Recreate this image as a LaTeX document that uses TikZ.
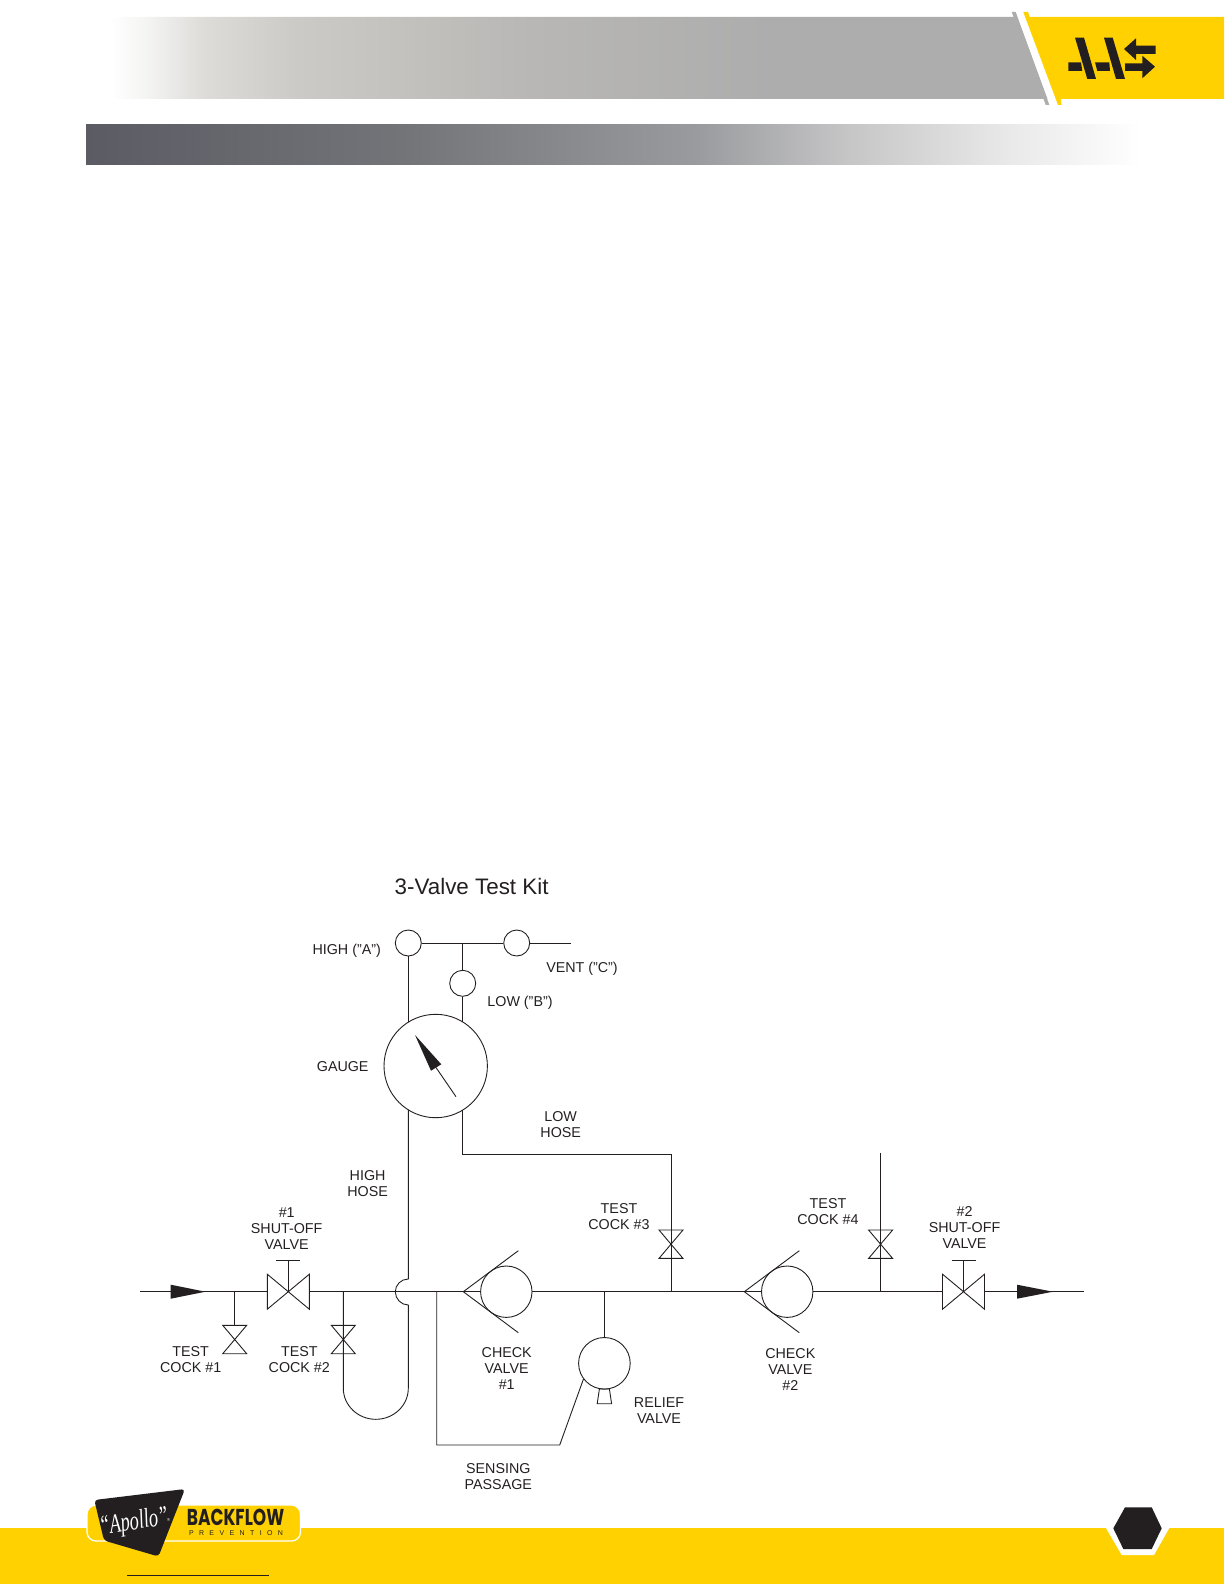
\documentclass[tikz,border=0pt]{standalone}
\usepackage{fontspec}
\setmainfont{Liberation Sans}
\newfontfamily\apollofont[FakeStretch=0.68]{Liberation Serif}
\newfontfamily\blackfont[FakeStretch=0.74]{Poppins}
\usetikzlibrary{calc}
\definecolor{ink}{HTML}{231F20}
\definecolor{brand}{HTML}{FFD100}
\definecolor{HGw}{HTML}{F4F4F3}
\definecolor{HGx}{HTML}{DDDCD9}
\definecolor{HGa}{HTML}{CCCAC6}
\definecolor{HGb}{HTML}{B8B7B5}
\definecolor{HGc}{HTML}{ADADAD}
\definecolor{BGa}{HTML}{5B5B64}
\definecolor{BGb}{HTML}{737478}
\definecolor{BGc}{HTML}{9A9B9E}
\definecolor{BGd}{HTML}{C5C5C6}
\definecolor{BGe}{HTML}{E8E8E8}
\pgfdeclarehorizontalshading{headband}{100bp}{color(0bp)=(white);color(25bp)=(white);color(27bp)=(HGw);color(30bp)=(HGx);color(35bp)=(HGa);color(47.5bp)=(HGb);color(60bp)=(HGc);color(100bp)=(HGc)}
\pgfdeclarehorizontalshading{subband}{100bp}{color(0bp)=(BGa);color(25bp)=(BGa);color(40bp)=(BGb);color(54bp)=(BGc);color(61bp)=(BGd);color(68.5bp)=(BGe);color(75bp)=(white);color(100bp)=(white)}
\tikzset{
  pipe/.style={draw=ink,line width=0.9pt},
  valvecircle/.style={circle,draw=ink,line width=0.9pt,inner sep=0pt,minimum size=#1},
  lbl/.style={font=\fontsize{14.3}{16}\selectfont,text=ink,align=center,inner sep=0pt},
  pics/testcock/.style={code={\draw[pipe] (-12,-14.2)--(12,-14.2)--(-12,14.2)--(12,14.2)--cycle;}},
  pics/shutoff/.style={code={\draw[pipe,line join=miter] (-21,-17.5)--(21,17.5)--(21,-17.5)--(-21,17.5)--cycle;
     \draw[pipe] (0,0)--(0,-31) (-12,-31)--(12,-31);}},
  pics/checkcone/.style={code={\draw[pipe] (55,-41)--(0,0)--(55,41);}},
}
\begin{document}
\begin{tikzpicture}[x=1pt,y=-1pt]
\useasboundingbox (0,0) rectangle (1224,1584);
% header
\shade[shading=headband] (110,17)--(1017,17)--(1047.5,99)--(110,99)--cycle;
\fill[HGc] (1011.7,12)--(1015.7,12)--(1049.3,105)--(1045.7,105)--cycle;
\fill[brand] (1023.3,12)--(1028,12)--(1029.7,17)--(1224,17)--(1224,99)--(1061,99)--(1061.5,105)--(1058,105)--cycle;
\fill[ink] (1075,37.7)--(1084,37.7)--(1096,79)--(1087.3,79)--cycle
           (1104,37.7)--(1112.7,37.7)--(1125,79)--(1116,79)--cycle
           (1068.3,62.3)--(1081,62.3)--(1082.3,71)--(1068.3,71)--cycle
           (1095,62.3)--(1109.3,62.3)--(1110,71)--(1097.3,71)--cycle
           (1124,49)--(1136,38.3)--(1136,45.7)--(1155.7,45.7)--(1155.7,54)--(1136,54)--(1136,60)--cycle
           (1155,66.7)--(1142.3,55.7)--(1142.3,63.3)--(1125,63.3)--(1125,71)--(1142.3,71)--(1142.3,78.3)--cycle;
% sub band
\shade[shading=subband] (86,124.5) rectangle (1141,164.5);
% footer
\fill[brand] (0,1528) rectangle (1224,1584);
\fill[white] (1106,1528)--(1121.7,1555)--(1154,1555)--(1169.3,1528)--cycle;
\fill[ink] (1125,1507.3)--(1151.7,1507.3)--(1161.7,1528.3)--(1151.7,1549)--(1123.3,1549)--(1113.3,1528.3)--cycle;
\draw[white,line width=1.3pt,fill=brand,rounded corners=9pt] (87,1505) rectangle (300.5,1541);
\fill[ink,rounded corners=3.5pt] (94.3,1500)--(185,1489)--(158.5,1556.5)--(104,1540.5)--cycle;
\node[rotate=9,text=white,inner sep=0pt,font=\apollofont\itshape\fontsize{27}{27}\selectfont] (apollo) at (134,1523) {“Apollo”};
\node[rotate=9,text=white,inner sep=0pt,font=\fontsize{4}{4}\selectfont] (regmark) at (168.5,1520) {®};
\node[inner sep=0pt,text=ink,font=\blackfont\bfseries\fontsize{23}{23}\selectfont] (backflow) at (235.5,1517.5) {BACKFLOW};
\node[inner sep=0pt,text=ink,font=\fontsize{7}{7}\selectfont] (prevention) at (236,1533) {\hbox to 94pt{P\hfil R\hfil E\hfil V\hfil E\hfil N\hfil T\hfil I\hfil O\hfil N}};
\coordinate (ruleL) at (127.3,1575); \coordinate (ruleR) at (269,1575);
\draw[ink,line width=0.9pt] (ruleL)--(ruleR);
% title
\node[inner sep=0pt,text=ink,font=\fontsize{22.4}{26}\selectfont] (title) at (471.6,886.7) {3-Valve Test Kit};
% circles
\node[valvecircle=26pt] (high) at (408.3,943) {};
\node[valvecircle=26pt] (vent) at (516.7,943) {};
\node[valvecircle=26pt] (low) at (462.7,983.3) {};
\node[valvecircle=103.4pt] (gauge) at (435.7,1066) {};
\node[valvecircle=51.4pt] (cv1) at (506.3,1291.7) {};
\node[valvecircle=51.4pt] (cv2) at (787.2,1291.7) {};
\node[valvecircle=51.6pt] (relief) at (604.4,1363.3) {};
% key coordinates
\coordinate (inlet) at (140.4,1291.7);
\coordinate (outlet) at (1083.6,1291.7);
\coordinate (sv1L) at (267.3,1291.7); \coordinate (sv1R) at (309.3,1291.7);
\coordinate (sv2L) at (942.5,1291.7); \coordinate (sv2R) at (984.5,1291.7);
\coordinate (teeLow) at (462.7,943);
\coordinate (ventEnd) at (571,943);
\coordinate (tee1) at (234.7,1291.7);
\coordinate (tee2) at (343.3,1291.7);
\coordinate (tee3) at (671,1291.7);
\coordinate (tee4) at (880.6,1291.7);
\coordinate (teeS) at (436.7,1291.7);
\coordinate (teeR) at (604.4,1291.7);
\coordinate (hoseLow) at (462.7,1154);
\coordinate (hoseLowR) at (671,1154);
\coordinate (tc4Top) at (880.6,1152.5);
\coordinate (sensA) at (436.7,1445);
\coordinate (sensB) at (559.7,1445);
% pipes
\draw[pipe] (inlet)--(sv1L) (sv1R)--(cv1.west) (cv1.east)--(cv2.west) (cv2.east)--(sv2L) (sv2R)--(outlet);
\draw[pipe] (high.east)--(vent.west) (vent.east)--(ventEnd);
\draw[pipe] (teeLow)--(low.north) (low.south)--(low.south|-gauge.58);
\draw[pipe] (high.south)--(high.south|-gauge.122);
\draw[pipe,line join=round] (high.south|-gauge.238)--(408.3,1279) .. controls (401.1,1279) and (395.3,1284.8) .. (395.3,1291.7) .. controls (395.3,1298.9) and (401.1,1305) .. (408.3,1305)--(408.3,1388.3) .. controls (408.3,1405.4) and (393.7,1419.3) .. (375.8,1419.3) .. controls (357.9,1419.3) and (343.3,1405.4) .. (343.3,1388.3)--(tee2);
\draw[pipe,line join=miter] (low.south|-gauge.302)--(hoseLow)--(hoseLowR)--(tee3);
\draw[pipe] (tc4Top)--(tee4);
\draw[pipe] (tee1)--(234.7,1325.3);
\draw[pipe,line join=miter] (teeS)--(sensA)--(sensB)--(relief.217);
\draw[pipe] (teeR)--(relief.north);
% valves
\pic at (234.7,1339.5) {testcock};
\pic at (343.3,1339.5) {testcock};
\pic at (671,1244.2) {testcock};
\pic at (880.6,1244.2) {testcock};
\pic at (288.3,1291.7) {shutoff};
\pic at (963.5,1291.7) {shutoff};
\pic at (463.3,1291.7) {checkcone};
\pic at (744.3,1291.7) {checkcone};
\draw[pipe] (599.4,1389)--(609.4,1389)--(611.6,1403.7)--(597.2,1403.7)--cycle;
% flow arrows
\fill[ink] (170.7,1284.7)--(205.5,1291.7)--(170.7,1298.7)--cycle;
\fill[ink] (1017,1284.7)--(1053,1291.7)--(1017,1298.7)--cycle;
% gauge needle
\draw[pipe] (456,1096.7)--(436,1067.5);
\fill[ink] (415,1035)--(441.3,1064.3)--(431,1070.7)--cycle;
% labels
\node[lbl] (lHigh) at (346.7,950.3) {HIGH ("A")};
\node[lbl] (lVent) at (582,968.7) {VENT ("C")};
\node[lbl] (lLow) at (520,1003) {LOW ("B")};
\node[lbl] (lGauge) at (342.7,1066.7) {GAUGE};
\node[lbl] (lLowHose) at (560.7,1124.5) {LOW\\HOSE};
\node[lbl] (lHighHose) at (367.6,1183.4) {HIGH\\HOSE};
\node[lbl] (lSV1) at (286.7,1228.2) {\#1\\SHUT-OFF\\VALVE};
\node[lbl] (lSV2) at (964.5,1227.7) {\#2\\SHUT-OFF\\VALVE};
\node[lbl] (lTC1) at (190.7,1359.5) {TEST\\COCK \#1};
\node[lbl] (lTC2) at (299.3,1359.5) {TEST\\COCK \#2};
\node[lbl] (lTC3) at (619,1216.8) {TEST\\COCK \#3};
\node[lbl] (lTC4) at (828,1211.2) {TEST\\COCK \#4};
\node[lbl] (lCV1) at (506.7,1368) {CHECK\\VALVE\\\#1};
\node[lbl] (lCV2) at (790.3,1369.7) {CHECK\\VALVE\\\#2};
\node[lbl] (lRelief) at (659,1410.5) {RELIEF\\VALVE};
\node[lbl] (lSens) at (498.3,1476.5) {SENSING\\PASSAGE};
\end{tikzpicture}
\end{document}
